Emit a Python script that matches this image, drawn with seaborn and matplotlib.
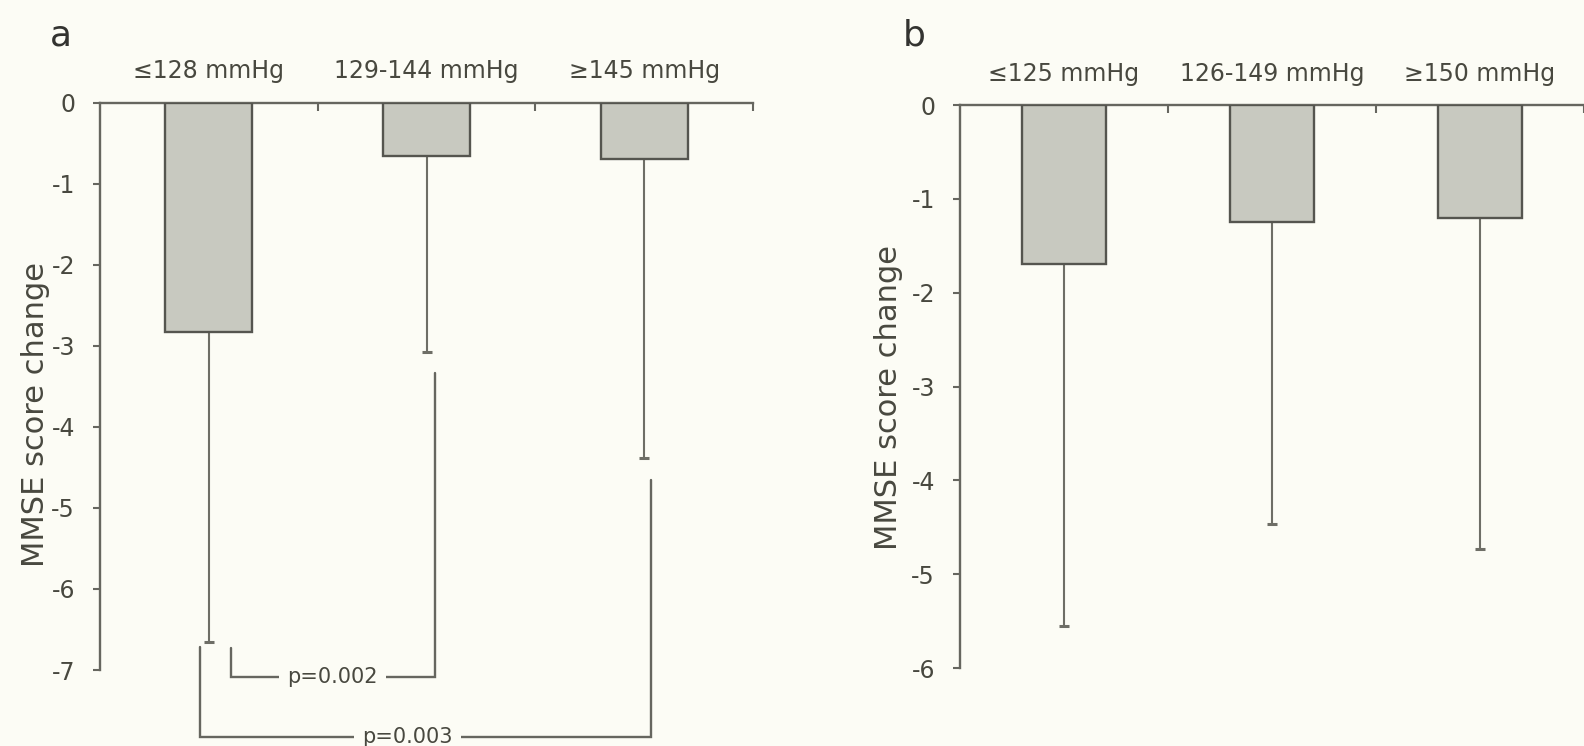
import numpy as np
import pandas as pd
import matplotlib
matplotlib.use("Agg")
import matplotlib.pyplot as plt
import seaborn as sns

# Systolic blood pressure groups and mean MMSE score change (with lower SD)
groups_a = ["≤128 mmHg", "129-144 mmHg", "≥145 mmHg"]
mean_a = [-2.83, -0.66, -0.70]
sd_a = [3.82, 2.42, 3.69]

groups_b = ["≤125 mmHg", "126-149 mmHg", "≥150 mmHg"]
mean_b = [-1.69, -1.25, -1.20]
sd_b = [3.86, 3.22, 3.53]

yticks_a = [0, -1, -2, -3, -4, -5, -6, -7]
yticks_b = [0, -1, -2, -3, -4, -5, -6]

# Pairwise comparisons in panel a: (group i, group j, p-value label)
comparisons_a = [(0, 1, "p=0.002"), (0, 2, "p=0.003")]

BG = "#fcfcf5"
AXIS = "#66665f"
BAR_FILL = "#c8c9c0"
BAR_EDGE = "#55554f"
ERR = "#6e6e66"
TEXT = "#48483f"

sns.set_style("white")
plt.rcParams["font.family"] = ["DejaVu Sans"]
plt.rcParams["axes.unicode_minus"] = False

W, H = 1584, 746
fig = plt.figure(figsize=(W / 100, H / 100), dpi=100, facecolor=BG)


def panel(rect, groups, means, sds, yticks):
    ax = fig.add_axes(rect)
    ax.set_facecolor(BG)
    df = pd.DataFrame({"group": groups, "change": means})
    sns.barplot(data=df, x="group", y="change", order=groups, color=BAR_FILL,
                saturation=1, width=0.4, edgecolor=BAR_EDGE, linewidth=1.7,
                errorbar=None, ax=ax, zorder=3)
    x = np.arange(len(groups))
    lower = np.asarray(means) - np.asarray(sds)
    # one-sided (downward) SD whiskers with a cap only at the lower end
    ax.errorbar(x, means, yerr=[sds, np.zeros(len(sds))], fmt="none",
                ecolor=ERR, elinewidth=1.5, capsize=0, zorder=2)
    ax.plot(x, lower, ls="none", marker="_", ms=7, mew=2.2, color=ERR,
            zorder=2)
    ax.set_xlim(-0.5, len(groups) - 0.5)
    ax.set_ylim(min(yticks), 0)
    ax.set_yticks(yticks)
    ax.set_yticklabels([str(t) for t in yticks])
    ax.set_ylabel("MMSE score change", fontsize=22, color=TEXT)
    ax.set_xlabel("")

    # category labels above the zero line, boundary ticks on the zero line
    ax.set_xticks(range(len(groups)))
    ax.set_xticklabels(groups)
    ax.set_xticks(x + 0.5, minor=True)
    ax.tick_params(axis="x", which="both", top=True, bottom=False,
                   labeltop=True, labelbottom=False, colors=AXIS,
                   labelcolor=TEXT)
    ax.tick_params(axis="x", which="major", length=0, pad=14, labelsize=17)
    ax.tick_params(axis="x", which="minor", length=6, width=1.5,
                   direction="in")
    ax.tick_params(axis="y", left=True, right=False, length=5, width=1.5,
                   direction="out", pad=13, labelsize=17, colors=AXIS,
                   labelcolor=TEXT)

    for side in ("right", "bottom"):
        ax.spines[side].set_visible(False)
    for side in ("top", "left"):
        ax.spines[side].set_color(AXIS)
        ax.spines[side].set_linewidth(1.7)
    return ax


ax_a = panel([100 / W, (H - 670) / H, 653 / W, 567.3 / H],
             groups_a, mean_a, sd_a, yticks_a)
ax_b = panel([960 / W, (H - 668) / H, 624 / W, 563 / H],
             groups_b, mean_b, sd_b, yticks_b)

ax_a.yaxis.set_label_coords(-0.076, 0.45)
ax_b.yaxis.set_label_coords(-0.091, 0.48)

# significance brackets below the bars of panel a
bracket_geom = {
    "p=0.002": dict(x0=0.10, x1=1.04, top0=-6.73, top1=-3.34, base=-7.09, tx=0.568),
    "p=0.003": dict(x0=-0.04, x1=2.03, top0=-6.72, top1=-4.66, base=-7.83, tx=0.912),
}
for i, j, label in comparisons_a:
    g = bracket_geom[label]
    ax_a.plot([g["x0"], g["x0"], g["x1"], g["x1"]],
              [g["top0"], g["base"], g["base"], g["top1"]],
              color=AXIS, lw=1.7, clip_on=False, zorder=4,
              solid_joinstyle="miter")
    ax_a.text(g["tx"], g["base"], label, ha="center", va="center",
              fontsize=15, color=TEXT, zorder=5, clip_on=False,
              bbox=dict(facecolor=BG, edgecolor="none", pad=6))

fig.text(50 / W, 1 - 45 / H, "a", fontsize=26, color="#333330",
         ha="left", va="baseline")
fig.text(903 / W, 1 - 45 / H, "b", fontsize=26, color="#333330",
         ha="left", va="baseline")

fig.savefig("out.png", dpi=100, facecolor=BG)
